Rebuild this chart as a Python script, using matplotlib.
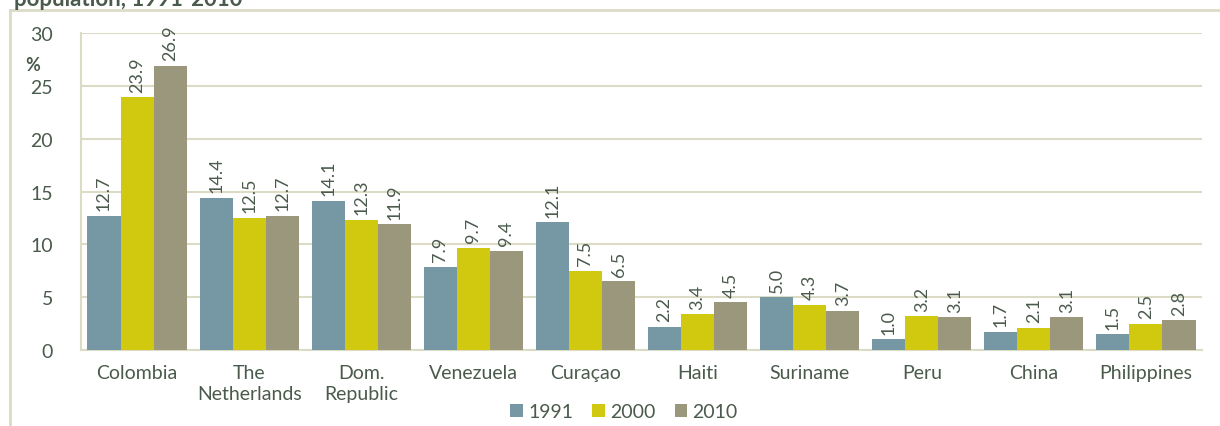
import matplotlib
matplotlib.use('Agg')
import matplotlib.pyplot as plt
import numpy as np

countries = ['Colombia', 'The\nNetherlands', 'Dom.\nRepublic', 'Venezuela', 'Curaçao',
             'Haiti', 'Suriname', 'Peru', 'China', 'Philippines']
years = ['1991', '2000', '2010']
v1991 = [12.7, 14.4, 14.1, 7.9, 12.1, 2.2, 5.0, 1.0, 1.7, 1.5]
v2000 = [23.9, 12.5, 12.3, 9.7, 7.5, 3.4, 4.3, 3.2, 2.1, 2.5]
v2010 = [26.9, 12.7, 11.9, 9.4, 6.5, 4.5, 3.7, 3.1, 3.1, 2.8]
colors = ['#7698a5', '#d1c90f', '#9a977c']

txt = '#4a5a4c'
grid = '#dcdcc6'
plt.rcParams['font.family'] = ['Lato', 'DejaVu Sans']

fig = plt.figure(figsize=(12.2, 4.27), dpi=100)
ax = fig.add_axes([81 / 1220, 1 - 351 / 427, (1202 - 81) / 1220, (351 - 34) / 427])

x = np.arange(len(countries))
w = 0.295
for i, (vals, yr) in enumerate(zip([v1991, v2000, v2010], years)):
    pos = x + (i - 1) * w
    ax.bar(pos, vals, width=w, color=colors[i], label=yr, zorder=3)
    for p, v in zip(pos, vals):
        ax.annotate('%.1f' % v, (p, v), xytext=(0, 4), textcoords='offset points',
                    rotation=90, ha='center', va='bottom', fontsize=13, color=txt)

ax.set_xlim(-0.5, len(countries) - 0.5)
ax.set_ylim(0, 30)
ax.set_yticks(range(0, 31, 5))
ax.yaxis.grid(True, color=grid, linewidth=1.5, zorder=0)
ax.set_xticks(x)
ax.set_xticklabels(countries, fontsize=14, color=txt, linespacing=1.3)
ax.tick_params(axis='y', labelsize=14, labelcolor=txt, length=0, pad=20)
ax.tick_params(axis='x', length=0, pad=10)
for s in ['top', 'right']:
    ax.spines[s].set_visible(False)
for s in ['left', 'bottom']:
    ax.spines[s].set_color(grid)
    ax.spines[s].set_linewidth(1.5)

fig.text(25 / 1220, 1 - 66 / 427, '%', fontsize=13, fontweight='bold', color=txt,
         ha='left', va='center')
fig.text(14 / 1220, 1 - 6 / 427, 'population, 1991-2010', fontsize=16, fontweight='bold',
         color=txt, ha='left', va='baseline')

# outer frame (top and left)
fig.add_artist(plt.Line2D([10 / 1220, 1], [1 - 11 / 427, 1 - 11 / 427], color=grid, linewidth=2))
fig.add_artist(plt.Line2D([10 / 1220, 10 / 1220], [0, 1 - 11 / 427], color=grid, linewidth=2))

fig.legend(loc='center', bbox_to_anchor=(624 / 1220, 1 - 413 / 427), ncol=3, frameon=False,
           fontsize=14, labelcolor=txt, handlelength=0.65, handleheight=0.65,
           handletextpad=0.25, columnspacing=1.0, borderaxespad=0)

fig.savefig('out.png', dpi=100)
